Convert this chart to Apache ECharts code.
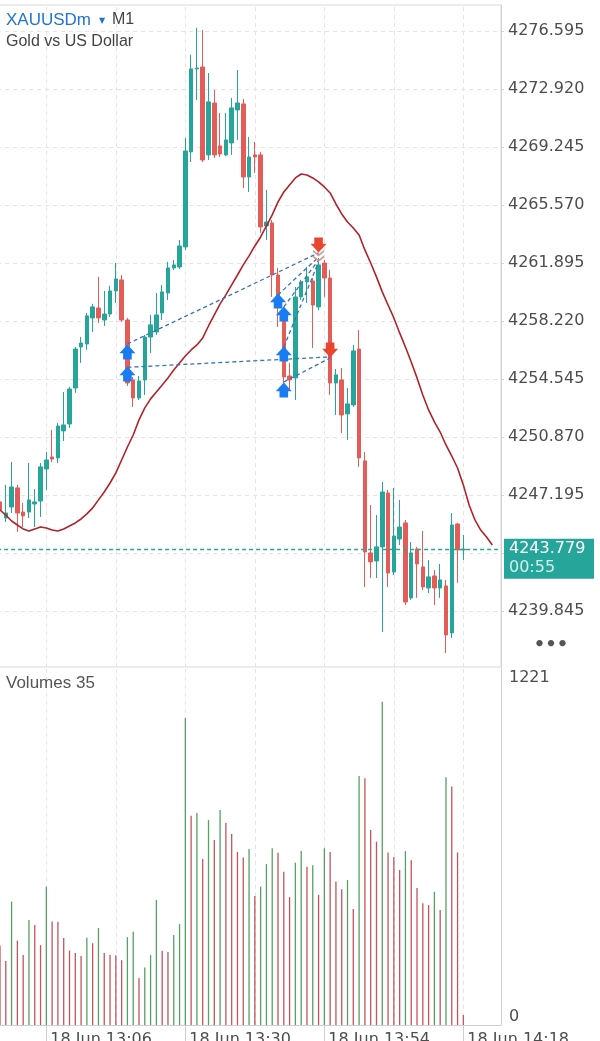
<!DOCTYPE html>
<html><head><meta charset="utf-8">
<script src="https://cdn.jsdelivr.net/npm/echarts@6/dist/echarts.min.js"></script>
<style>html,body{margin:0;padding:0;background:#fff;overflow:hidden}#c{width:600px;height:1041px;}</style>
</head><body><div id="c"></div>
<script>
// ---- categories (minutes, 18 Jun) ----
const times = ['12:58','12:59',
'13:00','13:01','13:02','13:03','13:04','13:05','13:06','13:07','13:08','13:09',
'13:10','13:11','13:12','13:13','13:14','13:15','13:16','13:17','13:18','13:19',
'13:20','13:21','13:22','13:23','13:24','13:25','13:26','13:27','13:28','13:29',
'13:30','13:31','13:32','13:33','13:34','13:35','13:36','13:37','13:38','13:39',
'13:40','13:41','13:42','13:43','13:44','13:45','13:46','13:47','13:48','13:49',
'13:50','13:51','13:52','13:53','13:54','13:55','13:56','13:57','13:58','13:59',
'14:00','14:01','14:02','14:03','14:04','14:05','14:06','14:07','14:08','14:09',
'14:10','14:11','14:12','14:13','14:14','14:15','14:16','14:17','14:18','14:19',
'14:20','14:21','14:22','14:23','14:24'];

// ---- OHLC ----
const opens = [4246.77,4245.75,4246.45,4247.66,4246.13,4246.13,4246.64,4246.83,4248.86,4249.62,
4249.56,4251.27,4251.71,4253.99,4256.59,4256.78,4258.43,4259.06,4258.30,4258.68,
4260.14,4260.84,4258.30,4254.50,4253.36,4254.50,4257.22,4257.54,4258.75,4260.01,
4261.60,4261.66,4262.93,4268.95,4274.21,4274.33,4268.76,4272.05,4269.33,4268.76,
4269.52,4271.61,4271.99,4267.36,4268.76,4268.76,4264.26,4264.45,4261.15,4258.43,
4254.75,4254.63,4259.76,4260.71,4260.77,4259.13,4261.91,4260.96,4254.31,4254.50,
4252.35,4252.92,4256.46,4249.37,4243.54,4243.03,4243.92,4247.34,4242.33,4244.42,
4245.44,4240.69,4243.79,4242.65,4241.32,4242.08,4241.32,4241.45,4238.47,4245.37,
4243.73];
const closes = [4246.26,4246.07,4247.72,4246.07,4245.88,4246.90,4246.77,4248.99,4249.43,4249.49,
4251.58,4251.65,4253.93,4256.46,4256.84,4258.56,4259.13,4258.43,4258.68,4260.14,
4260.90,4258.30,4254.31,4253.36,4254.44,4257.22,4257.99,4258.62,4260.08,4261.60,
4261.79,4262.99,4269.01,4274.21,4274.27,4268.44,4272.12,4268.76,4268.82,4269.71,
4271.74,4272.05,4267.36,4268.63,4268.63,4264.20,4264.51,4261.15,4259.25,4254.69,
4254.50,4259.76,4260.71,4261.03,4259.25,4261.79,4260.96,4254.31,4254.82,4252.28,
4252.98,4256.34,4249.56,4243.60,4242.97,4243.92,4247.40,4242.27,4244.61,4245.18,
4240.43,4243.54,4242.84,4241.38,4242.02,4241.32,4241.83,4238.34,4245.31,4243.73,
4243.779];
const lows = [4246.01,4245.50,4246.07,4244.87,4245.18,4245.75,4245.18,4245.82,4247.53,4249.30,
4249.24,4250.63,4251.46,4253.68,4255.58,4256.40,4257.54,4258.11,4257.92,4258.49,
4259.38,4258.18,4254.12,4252.79,4253.23,4253.55,4256.21,4257.35,4258.30,4259.57,
4261.47,4261.53,4262.74,4268.31,4272.24,4268.31,4268.44,4268.57,4268.63,4268.69,
4268.76,4269.71,4266.67,4266.41,4267.62,4263.82,4263.37,4259.76,4257.86,4253.87,
4253.87,4253.23,4259.57,4259.38,4256.53,4258.94,4259.76,4253.55,4252.28,4251.14,
4250.70,4252.79,4248.99,4241.38,4241.95,4241.95,4238.53,4241.38,4242.14,4244.04,
4240.24,4240.56,4240.69,4241.19,4241.00,4240.24,4240.69,4237.20,4238.15,4241.64,
4243.09];
const highs = [4247.02,4247.85,4249.30,4247.85,4246.70,4249.24,4247.59,4249.24,4249.94,4251.33,
4251.77,4253.74,4254.06,4256.59,4257.22,4258.75,4259.32,4261.03,4260.14,4260.46,
4261.91,4261.15,4258.43,4254.69,4254.75,4257.35,4258.62,4260.01,4260.52,4261.98,
4262.10,4263.37,4269.84,4275.10,4276.81,4276.68,4273.95,4272.88,4271.42,4271.42,
4272.37,4274.14,4272.31,4269.90,4269.58,4268.95,4266.54,4264.64,4261.60,4258.94,
4255.58,4260.39,4260.84,4261.66,4260.96,4262.23,4262.10,4261.47,4255.20,4255.26,
4253.99,4256.72,4257.67,4249.94,4246.58,4245.94,4248.04,4247.53,4247.66,4246.90,
4245.63,4244.23,4243.92,4244.93,4243.09,4242.46,4242.84,4241.83,4246.07,4245.44,
4244.68];

// ---- moving average (shifted, extends past last bar) ----
const maValues = [4246.26,4245.94,4245.56,4245.31,4245.06,4244.93,4245.06,4245.18,4245.12,4244.99,
4244.93,4245.06,4245.25,4245.44,4245.69,4246.01,4246.39,4246.90,4247.40,4247.97,
4248.61,4249.43,4250.25,4251.01,4251.97,4252.73,4253.30,4253.74,4254.18,4254.63,
4255.13,4255.58,4256.02,4256.40,4256.72,4257.16,4257.92,4258.62,4259.32,4259.89,
4260.52,4261.15,4261.79,4262.36,4262.99,4263.56,4264.26,4264.96,4265.78,4266.41,
4266.86,4267.30,4267.55,4267.49,4267.30,4267.05,4266.73,4266.35,4265.65,4265.02,
4264.51,4264.13,4263.69,4262.74,4261.91,4261.03,4260.08,4259.25,4258.43,4257.48,
4256.59,4255.64,4254.63,4253.55,4252.60,4251.84,4251.20,4250.38,4249.68,4248.92,
4247.85,4246.58,4245.63,4244.99,4244.55,4244.04];

// ---- tick volumes ----
const volumes = [280,225,434,297,246,369,352,281,486,364,
363,306,262,253,243,307,288,341,253,246,
245,228,309,328,165,202,246,440,261,257,
317,355,1080,736,746,584,721,651,756,711,
672,609,589,619,454,487,566,622,606,539,
450,571,612,557,562,458,622,609,505,478,
510,408,876,868,686,645,1137,607,591,545,
612,580,482,428,422,469,405,872,839,607,
35];

// ---- trades ----
const buyTrades = [['13:20',4256.27],['13:20',4254.88],['13:46',4259.51],['13:47',4258.68],['13:47',4256.15],['13:47',4253.87]];
const sellTrades = [['13:53',4263.05],['13:55',4256.40]];
const closeMarks = [['13:53',4262.36]];
const tradeLinks = [
  ['13:20',4256.78,'13:53',4262.55],
  ['13:20',4255.30,'13:55',4255.96],
  ['13:46',4259.89,'13:53',4262.29],
  ['13:47',4259.13,'13:53',4262.10],
  ['13:47',4256.59,'13:53',4261.98],
  ['13:47',4254.37,'13:55',4255.89]
];

// ---- ticks ----
const priceTicks = [4276.595,4272.920,4269.245,4265.570,4261.895,4258.220,4254.545,4250.870,4247.195,4243.520,4239.845];
const priceTickLabels = [4276.595,4272.920,4269.245,4265.570,4261.895,4258.220,4254.545,4250.870,4247.195,4239.845];
const volumeTickLabels = [0,1221];
const gridTimes = ['13:06','13:18','13:30','13:42','13:54','14:06','14:18'];
const labelTimes = ['13:06','13:30','13:54','14:18'];
const dateLabel = '18 Jun';
const symbolName = 'XAUUSDm', timeframe = 'M1', symbolDesc = 'Gold vs US Dollar';
const barTimer = '00:55';

// ---- build ----
const UP = '#26a69a', DOWN = '#e35c57';
const VUP = '#56a063', VDOWN = '#c4535d';
const candleData = opens.map((o,i)=>[o, closes[i], lows[i], highs[i]]);
const volData = volumes.map((v,i)=>({value:v, itemStyle:{color: (i>0 && v>volumes[i-1]) ? VUP : VDOWN}}));
const idx = t => times.indexOf(t);
const lastPrice = closes[closes.length-1];
const lastVolume = volumes[volumes.length-1];
const numFont = '"DejaVu Sans", sans-serif';
const txtFont = '"Liberation Sans", Arial, sans-serif';

const vGrid = gridTimes.map(t => ({xAxis: idx(t)}));

const chart = echarts.init(document.getElementById('c'), null, {renderer:'canvas'});
const option = {
  animation: false,
  backgroundColor: '#ffffff',
  grid: [
    {left: -2.9, right: 99, top: 5, height: 662, show: true, borderColor: '#d9d9d9', borderWidth: 1, outerBoundsMode: 'none', containLabel: false},
    {left: -2.9, right: 99, top: 668, height: 357, show: false, outerBoundsMode: 'none', containLabel: false}
  ],
  xAxis: [
    {type:'category', gridIndex:0, data: times, boundaryGap: true, show: false},
    {type:'category', gridIndex:1, data: times, boundaryGap: true,
     axisLine:{show:true, lineStyle:{color:'#cfcfcf', width:1}},
     axisTick:{show:true, alignWithLabel:true, length:16, interval:(i,v)=>labelTimes.includes(v), lineStyle:{color:'#cfcfcf'}},
     axisLabel:{show:true, interval:(i,v)=>labelTimes.includes(v), formatter: v => dateLabel + ' ' + v,
       align:'left', verticalAlign:'top', margin:7, padding:[0,0,0,4], color:'#4d4d4d', fontSize:16, fontFamily:numFont},
     splitLine:{show:false}}
  ],
  yAxis: [
    {type:'value', gridIndex:0, position:'right', min: 4236.31, max: 4278.26, scale: true,
     axisLine:{show:true, lineStyle:{color:'#d0d0d0'}},
     axisTick:{show:true, length:3, customValues: priceTicks, lineStyle:{color:'#d0d0d0'}},
     axisLabel:{show:true, customValues: priceTickLabels, formatter: v => v.toFixed(3), margin:7,
       color:'#4d4d4d', fontSize:16, fontFamily:numFont},
     splitLine:{show:true, lineStyle:{color:'#e4e4e4', type:[4,4], width:1}}},
    {type:'value', gridIndex:1, position:'right', min: 0, max: 1256,
     axisLine:{show:true, lineStyle:{color:'#d0d0d0'}},
     axisTick:{show:false},
     axisLabel:{show:true, customValues: volumeTickLabels, margin:8,
       formatter: v => v === 0 ? '{lo|0}' : '{hi|' + v + '}',
       rich:{lo:{padding:[0,0,16,0], color:'#4d4d4d', fontSize:16, fontFamily:numFont},
             hi:{color:'#4d4d4d', fontSize:16, fontFamily:numFont}},
       color:'#4d4d4d', fontSize:16, fontFamily:numFont},
     splitLine:{show:false}}
  ],
  series: [
    {type:'candlestick', name:'price', xAxisIndex:0, yAxisIndex:0, data: candleData, barWidth: 4, z: 2,
     itemStyle:{color:UP, color0:DOWN, borderColor:UP, borderColor0:DOWN, borderWidth:1},
     markLine:{silent:true, z:1, symbol:['none','none'], label:{show:false},
       lineStyle:{color:'#e4e4e4', type:[4,4], width:1}, data: vGrid}},
    {type:'line', name:'MA', xAxisIndex:0, yAxisIndex:0, data: maValues, showSymbol:false, z: 3,
     lineStyle:{color:'#b3222a', width:1.6}, itemStyle:{color:'#b3222a'},
     markLine:{silent:true, symbol:['none','none'], label:{show:false},
       lineStyle:{color:'#26a69a', type:[4,3], width:1.3}, data:[{yAxis: lastPrice}]}},
    {type:'lines', coordinateSystem:'cartesian2d', xAxisIndex:0, yAxisIndex:0, z: 4, silent:true,
     lineStyle:{color:'#3873b6', width:1.3, type:[4,3], opacity:1},
     data: tradeLinks.map(l => ({coords:[[idx(l[0]), l[1]],[idx(l[2]), l[3]]]}))},
    {type:'scatter', xAxisIndex:0, yAxisIndex:0, z: 5, silent:true,
     symbol:'path://M6.5,0 L13,7 L10,7 L10,12 L3,12 L3,7 L0,7 Z', symbolSize:[16,15], symbolKeepAspect:false,
     itemStyle:{color:'#1a7cf3', opacity:1},
     data: buyTrades.map(t => [idx(t[0]), t[1]])},
    {type:'scatter', xAxisIndex:0, yAxisIndex:0, z: 5, silent:true,
     symbol:'path://M3,0 L10,0 L10,5 L13,5 L6.5,12 L0,5 L3,5 Z', symbolSize:[16,15], symbolKeepAspect:false,
     itemStyle:{color:'#e8462f', opacity:1},
     data: sellTrades.map(t => [idx(t[0]), t[1]])},
    {type:'scatter', xAxisIndex:0, yAxisIndex:0, z: 5, silent:true,
     symbol:'path://M0,0 L5,4 L10,0 L10,2 L5,6 L0,2 Z M0,5 L5,9 L10,5 L10,7 L5,11 L0,7 Z', symbolSize:[11,12],
     itemStyle:{color:'#d69a8e', opacity:1},
     data: closeMarks.map(t => [idx(t[0]), t[1]])},
    {type:'bar', name:'Volumes', xAxisIndex:1, yAxisIndex:1, data: volData, barWidth: 1.3, z: 2,
     markLine:{silent:true, z:1, symbol:['none','none'], label:{show:false},
       lineStyle:{color:'#e4e4e4', type:[4,4], width:1}, data: vGrid}}
  ]
};
chart.setOption(option);

const py = chart.convertToPixel({yAxisIndex:0}, lastPrice);
chart.setOption({
  graphic: [
    {type:'text', z:100, x:6, y:20, style:{text:symbolName, fill:'#1f74d4', font:'17px ' + txtFont, verticalAlign:'middle'}},
    {type:'text', z:100, x:99, y:21, style:{text:'▼', fill:'#1f74d4', font:'8px ' + numFont, verticalAlign:'middle'}},
    {type:'text', z:100, x:112, y:20, style:{text:timeframe, fill:'#444', font:'16px ' + txtFont, verticalAlign:'middle'}},
    {type:'text', z:100, x:6, y:42, style:{text:symbolDesc, fill:'#444', font:'16px ' + txtFont, verticalAlign:'middle'}},
    {type:'text', z:100, x:6, y:683, style:{text:'Volumes ' + lastVolume, fill:'#555', font:'17px ' + txtFont, verticalAlign:'middle'}},
    {type:'text', z:100, x:551, y:645, style:{text:'•••', fill:'#555', font:'bold 18px ' + numFont, align:'center', verticalAlign:'middle'}},
    {type:'rect', z:100, shape:{x:504, y:py-10.5, width:90, height:40}, style:{fill:UP}},
    {type:'text', z:101, x:509, y:py, style:{text: lastPrice.toFixed(3), fill:'#ffffff', font:'16px ' + numFont, verticalAlign:'middle'}},
    {type:'text', z:101, x:509, y:py+19, style:{text: barTimer, fill:'#d3efeb', font:'16px ' + numFont, verticalAlign:'middle'}}
  ]
});
</script>
</body></html>
